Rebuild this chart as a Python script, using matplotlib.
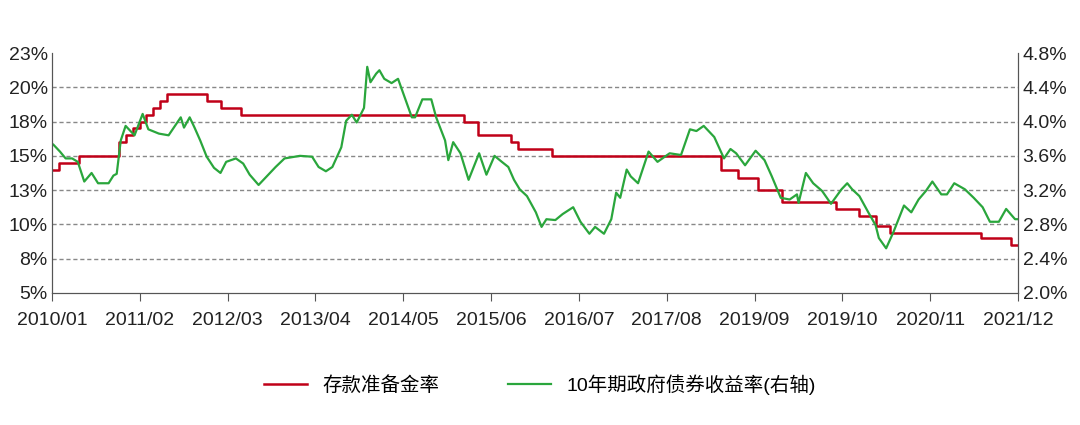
import matplotlib
matplotlib.use("Agg")
import matplotlib.pyplot as plt
import numpy as np

plt.rcParams['font.family'] = ['Liberation Sans', 'Noto Sans CJK SC', 'DejaVu Sans']

# Reserve requirement ratio (%), step changes: month offset from 2010/01, level
rrr_month = [0, 1, 4, 10, 11, 12, 13, 14, 15, 16, 17, 23, 25, 28, 61, 63, 68, 69, 74,
             99, 101.5, 104.5, 108, 116, 119.5, 122, 124, 137.5, 142, 143]
rrr_value = [14.0, 14.5, 15.0, 16.0, 16.5, 17.0, 17.5, 18.0, 18.5, 19.0, 19.5, 19.0, 18.5, 18.0,
             17.5, 16.5, 16.0, 15.5, 15.0, 14.0, 13.4, 12.5, 11.6, 11.1, 10.6, 9.9, 9.4, 9.0, 8.5, 8.5]

# 10Y government bond yield (%), right axis
gb_year = [2010.02, 2010.10, 2010.17, 2010.25, 2010.32, 2010.40, 2010.49, 2010.57, 2010.70, 2010.76,
           2010.80, 2010.85, 2010.91, 2011.02, 2011.12, 2011.19, 2011.32, 2011.44, 2011.49, 2011.59,
           2011.63, 2011.70, 2011.76, 2011.83, 2011.91, 2012.00, 2012.08, 2012.15, 2012.27, 2012.36,
           2012.44, 2012.55, 2012.65, 2012.76, 2012.87, 2013.06, 2013.21, 2013.29, 2013.38, 2013.46,
           2013.57, 2013.63, 2013.70, 2013.76, 2013.85, 2013.89, 2013.93, 2014.00, 2014.04, 2014.10,
           2014.19, 2014.27, 2014.36, 2014.44, 2014.48, 2014.57, 2014.68, 2014.74, 2014.85, 2014.89,
           2014.95, 2015.04, 2015.14, 2015.27, 2015.36, 2015.46, 2015.55, 2015.63, 2015.70, 2015.77,
           2015.86, 2015.97, 2016.04, 2016.10, 2016.21, 2016.30, 2016.43, 2016.52, 2016.63, 2016.70,
           2016.81, 2016.90, 2016.96, 2017.01, 2017.09, 2017.14, 2017.23, 2017.36, 2017.47, 2017.62,
           2017.76, 2017.87, 2017.95, 2018.04, 2018.17, 2018.29, 2018.37, 2018.44, 2018.55, 2018.68,
           2018.79, 2018.88, 2018.99, 2019.10, 2019.19, 2019.21, 2019.30, 2019.39, 2019.50, 2019.61,
           2019.74, 2019.81, 2019.87, 2019.96, 2020.07, 2020.16, 2020.20, 2020.29, 2020.38, 2020.51,
           2020.60, 2020.69, 2020.78, 2020.86, 2020.97, 2021.04, 2021.13, 2021.26, 2021.37, 2021.48,
           2021.57, 2021.68, 2021.77, 2021.88, 2021.92]
gb_value = [3.73, 3.65, 3.57, 3.57, 3.53, 3.30, 3.40, 3.28, 3.28, 3.37,
            3.39, 3.78, 3.95, 3.84, 4.09, 3.91, 3.86, 3.84, 3.91, 4.05,
            3.93, 4.05, 3.93, 3.78, 3.59, 3.46, 3.40, 3.53, 3.57, 3.51,
            3.38, 3.26, 3.36, 3.47, 3.57, 3.60, 3.59, 3.47, 3.42, 3.47,
            3.70, 4.01, 4.08, 3.99, 4.16, 4.64, 4.46, 4.56, 4.60, 4.50,
            4.45, 4.50, 4.26, 4.05, 4.05, 4.26, 4.26, 4.05, 3.78, 3.55,
            3.76, 3.63, 3.32, 3.63, 3.38, 3.60, 3.53, 3.47, 3.32, 3.21,
            3.13, 2.94, 2.77, 2.86, 2.85, 2.92, 3.00, 2.83, 2.69, 2.77,
            2.69, 2.86, 3.17, 3.11, 3.44, 3.36, 3.28, 3.65, 3.53, 3.63,
            3.61, 3.91, 3.89, 3.95, 3.82, 3.57, 3.68, 3.63, 3.49, 3.66,
            3.55, 3.36, 3.11, 3.09, 3.15, 3.05, 3.40, 3.28, 3.19, 3.04,
            3.21, 3.28, 3.21, 3.13, 2.94, 2.79, 2.64, 2.52, 2.71, 3.02,
            2.94, 3.09, 3.19, 3.30, 3.15, 3.15, 3.28, 3.21, 3.11, 3.00,
            2.83, 2.83, 2.98, 2.86, 2.86]

tick_labels = ['2010/01', '2011/02', '2012/03', '2013/04', '2014/05', '2015/06', '2016/07',
               '2017/08', '2019/09', '2019/10', '2020/11', '2021/12']
left_ticks = [5, 7.5, 10, 12.5, 15, 17.5, 20, 22.5]
left_labels = ['5%', '8%', '10%', '13%', '15%', '18%', '20%', '23%']
right_ticks = [2.0, 2.4, 2.8, 3.2, 3.6, 4.0, 4.4, 4.8]

red = '#c00018'
green = '#2aa63c'

fig = plt.figure(figsize=(10.8, 4.25), dpi=100)
ax = fig.add_axes([0.048, 0.311, 0.895, 0.564])
ax2 = ax.twinx()

rx = [2010 + m / 12 for m in rrr_month]
l1, = ax.plot(rx, rrr_value, drawstyle='steps-post', color=red, lw=1.8, label='存款准备金率')
l2, = ax2.plot(gb_year, gb_value, color=green, lw=1.6, label='10年期政府债券收益率(右轴)')

x0, x1 = 2010.0, 2010 + 143 / 12
ax.set_xlim(x0, x1 + 0.005)
ax.set_ylim(5, 22.5)
ax2.set_ylim(2.0, 4.8)
for t in left_ticks[1:-1]:
    ax.axhline(t, color='#888888', lw=1, ls=(0, (3, 2)), zorder=0)

ax.set_yticks(left_ticks)
ax.set_yticklabels(left_labels)
ax2.set_yticks(right_ticks)
ax2.set_yticklabels([f'{t:.1f}%' for t in right_ticks])
ax.set_xticks([2010 + 13 * i / 12 for i in range(12)])
ax.set_xticklabels(tick_labels)

for a in (ax, ax2):
    a.spines['top'].set_visible(False)
    for s in ('left', 'right', 'bottom'):
        a.spines[s].set_color('#555555')
    a.tick_params(labelsize=14, colors='#222222', length=0)
ax.tick_params(axis='x', length=6, direction='out', pad=8, color='#555555')
ax.tick_params(axis='y', pad=3)
ax2.tick_params(axis='y', pad=3)

fig.legend(handles=[l1, l2], loc='center', bbox_to_anchor=(0.5, 0.095), ncol=2, frameon=False,
           fontsize=14, handlelength=2.2, columnspacing=3.5)

fig.savefig('out.png', dpi=100)
